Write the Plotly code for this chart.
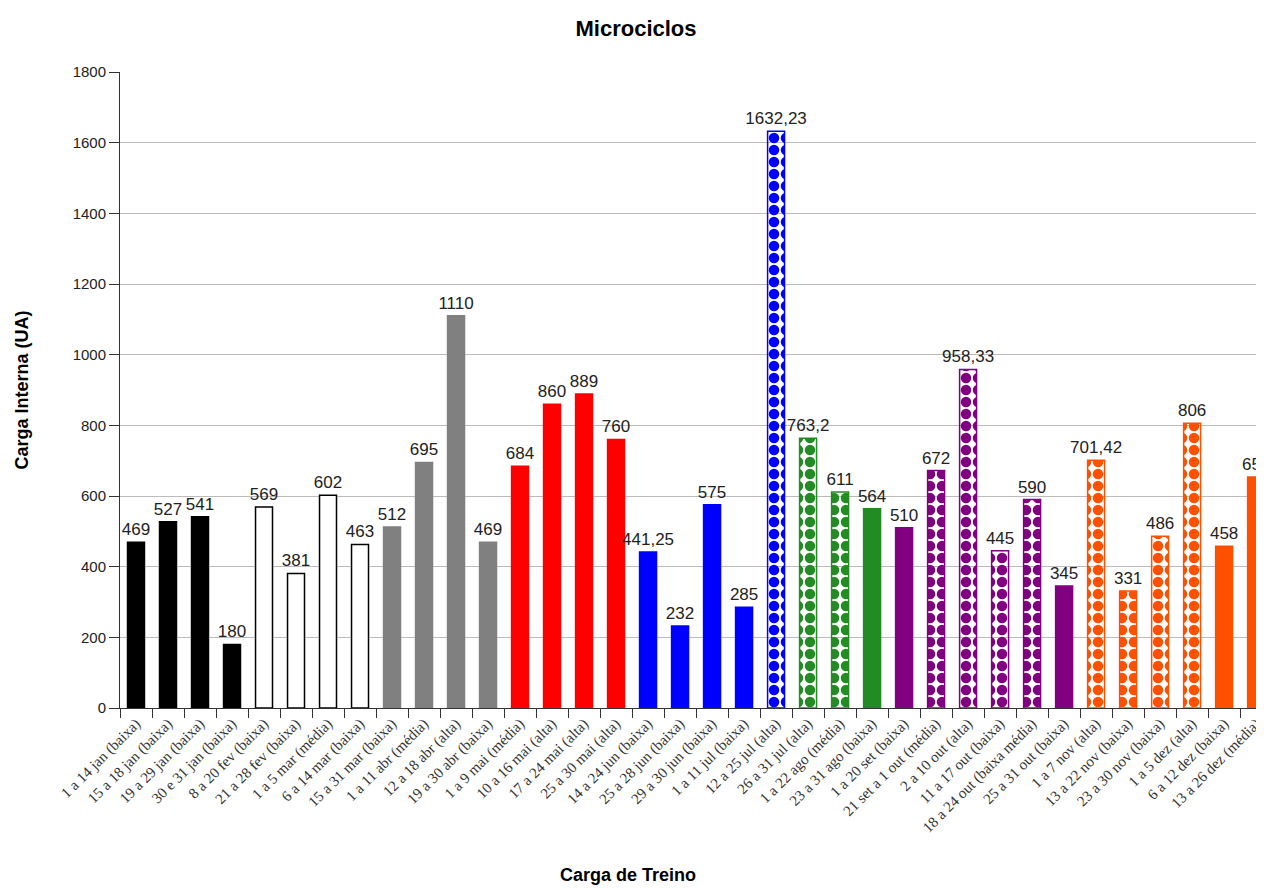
import plotly.graph_objects as go

categories = [
    "1 a 14 jan (baixa)", "15 a 18 jan (baixa)", "19 a 29 jan (baixa)", "30 e 31 jan (baixa)",
    "8 a 20 fev (baixa)", "21 a 28 fev (baixa)", "1 a 5 mar (média)", "6 a 14 mar (baixa)",
    "15 a 31 mar (baixa)", "1 a 11 abr (média)", "12 a 18 abr (alta)", "19 a 30 abr (baixa)",
    "1 a 9 mai (média)", "10 a 16 mai (alta)", "17 a 24 mai (alta)", "25 a 30 mai (alta)",
    "14 a 24 jun (baixa)", "25 a 28 jun (baixa)", "29 a 30 jun (baixa)", "1 a 11 jul (baixa)",
    "12 a 25 jul (alta)", "26 a 31 jul (alta)", "1 a 22 ago (média)", "23 a 31 ago (baixa)",
    "1 a 20 set (baixa)", "21 set a 1 out (média)", "2 a 10 out (alta)", "11 a 17 out (baixa)",
    "18 a 24 out (baixa média)", "25 a 31 out (baixa)", "1 a 7 nov (alta)", "13 a 22 nov (baixa)",
    "23 a 30 nov (baixa)", "1 a 5 dez (alta)", "6 a 12 dez (baixa)", "13 a 26 dez (média)",
]
values = [
    469, 527, 541, 180,
    569, 381, 602, 463,
    512, 695, 1110, 469,
    684, 860, 889, 760,
    441.25, 232, 575, 285,
    1632.23, 763.2, 611, 564,
    510, 672, 958.33, 445,
    590, 345, 701.42, 331,
    486, 806, 458, 654,
]
y_ticks = [0, 200, 400, 600, 800, 1000, 1200, 1400, 1600, 1800]

# ---- styles (kept apart from the data) ----
BLACK, WHITE, GRAY, RED = "#000000", "#FFFFFF", "#808080", "#FF0000"
BLUE, GREEN, PURPLE, ORANGE = "#0000FF", "#238B23", "#800080", "#FF5000"
bar_colors = ([BLACK] * 4 + [WHITE] * 4 + [GRAY] * 4 + [RED] * 4 + [BLUE] * 5
              + [GREEN] * 3 + [PURPLE] * 6 + [ORANGE] * 6)
patterned = [False] * 20 + [True, True, True, False, False, True, True, True, True,
                            False, True, True, True, True, False, False]

fill_colors, line_colors, shapes, fg, bg = [], [], [], [], []
for c, p in zip(bar_colors, patterned):
    line_colors.append(BLACK if c == WHITE else c)
    fill_colors.append(c)
    shapes.append("." if p else "")
    fg.append(WHITE if p else c)
    bg.append(c)

labels = [f"{v:g}".replace(".", ",") for v in values]

SANS = "Liberation Sans, Arial, sans-serif"
SERIF = "Liberation Serif, Times New Roman, serif"

fig = go.Figure(go.Bar(
    x=categories,
    y=values,
    width=0.53,
    text=labels,
    textposition="outside",
    constraintext="none",
    cliponaxis=False,
    textfont=dict(family=SANS, size=17, color="#222222"),
    marker=dict(
        color=fill_colors,
        line=dict(color=line_colors, width=1.5),
        pattern=dict(shape=shapes, fgcolor=fg, bgcolor=bg, size=12, solidity=0.6,
                     fillmode="replace"),
    ),
    showlegend=False,
))

fig.update_layout(
    width=1256,
    height=880,
    margin=dict(l=112, r=0, t=64, b=180),
    paper_bgcolor="white",
    plot_bgcolor="white",
    title=dict(text="<b>Microciclos</b>", x=0.5, xref="container", xanchor="center",
               y=1 - 20 / 880, yref="container", yanchor="middle",
               font=dict(family=SANS, size=22, color="#000000")),
    font=dict(family=SANS, color="#222222"),
    annotations=[
        dict(text="<b>Carga de Treino</b>", xref="paper", yref="paper",
             x=(630 - 120) / 1144, y=-167 / 636, xanchor="center", yanchor="middle",
             showarrow=False, font=dict(family=SANS, size=18, color="#000000")),
        dict(text="<b>Carga Interna (UA)</b>", xref="paper", yref="paper",
             x=(22 - 120) / 1144, y=0.5, xanchor="center", yanchor="middle",
             textangle=-90, showarrow=False,
             font=dict(family=SANS, size=18, color="#000000")),
    ],
)

fig.update_xaxes(
    type="category",
    range=[-0.5, 35.09],
    tickangle=-45,
    tickson="boundaries",
    ticks="outside",
    ticklen=9,
    tickcolor="#333333",
    showline=True,
    linecolor="#333333",
    linewidth=1,
    showgrid=False,
    tickfont=dict(family=SERIF, size=15, color="#333333"),
)

fig.update_yaxes(
    range=[0, 1800],
    tickvals=y_ticks,
    ticks="outside",
    ticklen=10,
    tickcolor="#333333",
    showline=True,
    linecolor="#333333",
    linewidth=1,
    showgrid=True,
    gridcolor="#BBBBBB",
    gridwidth=1,
    zeroline=False,
    tickfont=dict(family=SANS, size=15, color="#222222"),
)

fig.write_html("out.html")
